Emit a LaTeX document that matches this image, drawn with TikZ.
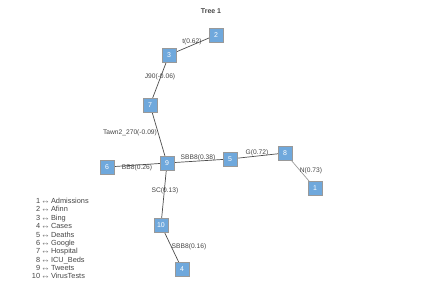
\documentclass[tikz,border=0pt]{standalone}
\usepackage{fontspec}
\setmainfont{Liberation Sans}
\usetikzlibrary{positioning}

\definecolor{boxblue}{HTML}{6FA8DC}
\definecolor{txtgray}{HTML}{444444}

\begin{document}
\begin{tikzpicture}[x=1bp, y=-1bp,
    vbox/.style={draw=gray!80, fill=boxblue, text=white, minimum size=14bp, inner sep=0pt, font=\fontsize{7}{8}\selectfont},
    elab/.style={text=txtgray, inner sep=0pt, font=\fontsize{6.7}{7.5}\selectfont},
    edge/.style={draw=black!70, line width=0.7pt},
    leg/.style={text=txtgray, inner sep=0pt, anchor=base west, font=\fontsize{7.4}{8.4}\selectfont}]
    \useasboundingbox (0,0) rectangle (423,291);

    % Title
    \node[font=\bfseries\fontsize{7}{8}\selectfont, text=txtgray] (title) at (211,11) {Tree 1};

    % Edges first, nodes on top
    \coordinate (c2) at (216,35);
    \coordinate (c3) at (169,55);
    \coordinate (c7) at (150,105);
    \coordinate (c9) at (167,163);
    \coordinate (c6) at (107,167);
    \coordinate (c5) at (230,159);
    \coordinate (c8) at (285,153);
    \coordinate (c1) at (315,188);
    \coordinate (c10) at (161,225);
    \coordinate (c4) at (182,269);

    \draw[edge] (c2) -- (c3);
    \draw[edge] (c3) -- (c7);
    \draw[edge] (c7) -- (c9);
    \draw[edge] (c9) -- (c6);
    \draw[edge] (c9) -- (c5);
    \draw[edge] (c5) -- (c8);
    \draw[edge, draw=black!40] (c8) -- (c1);
    \draw[edge] (c9) -- (c10);
    \draw[edge] (c10) -- (c4);

    % Vertices
    \foreach \v in {1,...,10}
        \node[vbox] (n\v) at (c\v) {\v};

    % Edge labels
    \node[elab] (l23) at (192,42) {t(0.62)};
    \node[elab] (l37) at (160,77) {J90(-0.06)};
    \node[elab] (l79) at (130,133) {Tawn2\_270(-0.09)};
    \node[elab] (l96) at (137,168) {BB8(0.26)};
    \node[elab] (l95) at (198,158) {SBB8(0.38)};
    \node[elab] (l58) at (257,153) {G(0.72)};
    \node[elab] (l81) at (311,171) {N(0.73)};
    \node[elab] (l910) at (165,191) {SC(0.13)};
    \node[elab] (l104) at (189,247) {SBB8(0.16)};

    % Legend
    \foreach \i/\name in {1/Admissions, 2/Afinn, 3/Bing, 4/Cases, 5/Deaths, 6/Google, 7/Hospital, 8/ICU\_Beds, 9/Tweets, 10/VirusTests}
        \node[leg] (leg\i) at (33, 203.6+8.35*\i-8.35) {\makebox[7bp][r]{\i}~$\scriptscriptstyle\leftrightarrow$~\name};
\end{tikzpicture}
\end{document}
